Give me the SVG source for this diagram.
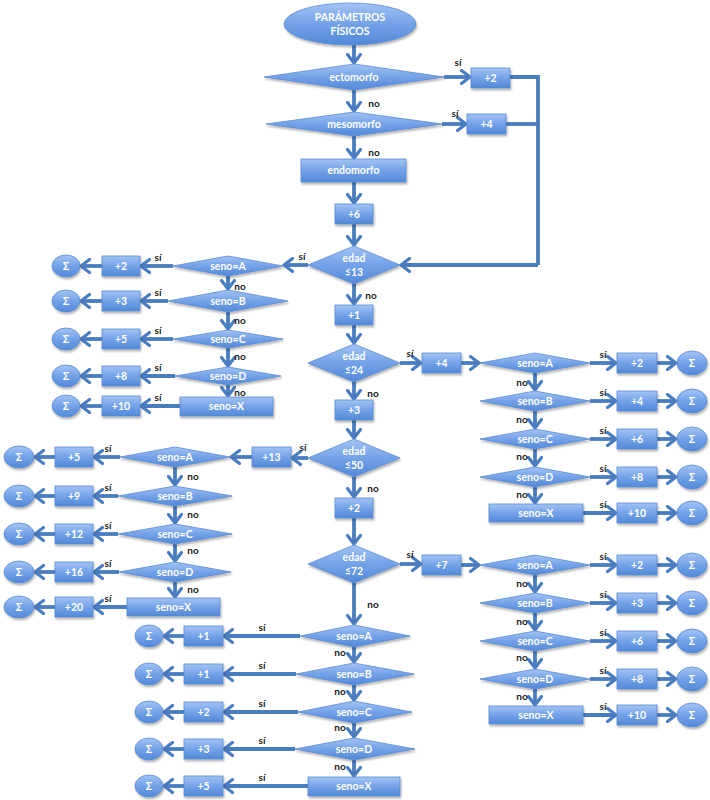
<svg xmlns="http://www.w3.org/2000/svg" width="710" height="800" viewBox="0 0 710 800">
<defs>
<linearGradient id="g" x1="0" y1="0" x2="0" y2="1">
<stop offset="0" stop-color="#a2c4f4"/>
<stop offset="0.5" stop-color="#74a2e8"/>
<stop offset="1" stop-color="#5289d8"/>
</linearGradient>
<filter id="sh" x="-10%" y="-20%" width="130%" height="160%">
<feDropShadow dx="1" dy="2" stdDeviation="1.2" flood-color="#000" flood-opacity="0.3"/>
</filter>
<marker id="ar" viewBox="0 0 12 16" refX="10" refY="8" markerWidth="12" markerHeight="16" markerUnits="userSpaceOnUse" orient="auto">
<path d="M1.5,1.5 L10,8 L1.5,14.5" fill="none" stroke="#4a7dc0" stroke-width="3.2" stroke-linecap="round" stroke-linejoin="round"/>
</marker>
</defs>
<style>
.n{fill:url(#g);stroke:#5a8ad0;stroke-width:0.8;filter:url(#sh)}
.t{font-family:Lato,"Liberation Sans",sans-serif;font-weight:bold;font-size:10.5px;fill:#ffffff;text-anchor:middle}
.l{font-family:Lato,"Liberation Sans",sans-serif;font-weight:bold;font-size:10px;fill:#1a1a1a;text-anchor:middle}
.c{stroke:#4a7dc0;stroke-width:3.8;fill:none}
.c line,.c path{marker-end:url(#ar)}
.c .p{marker-end:none}
</style>
<rect width="710" height="800" fill="#ffffff"/>

<g id="connectors" class="c">
<line x1="354" y1="45" x2="354" y2="63"/>
<line x1="444" y1="77" x2="470" y2="77"/>
<path class="p" d="M510,77 H538 V265"/>
<path class="p" d="M506,124 H538"/>
<line x1="538" y1="265" x2="401" y2="265"/>
<line x1="354" y1="90" x2="354" y2="111"/>
<line x1="442" y1="124" x2="466" y2="124"/>
<line x1="354" y1="136" x2="354" y2="158"/>
<line x1="354" y1="182" x2="354" y2="203"/>
<line x1="354" y1="224" x2="354" y2="245"/>
<line x1="354" y1="284" x2="354" y2="304"/>
<line x1="354" y1="325" x2="354" y2="343"/>
<line x1="354" y1="382" x2="354" y2="399"/>
<line x1="354" y1="420" x2="354" y2="438"/>
<line x1="354" y1="477" x2="354" y2="497"/>
<line x1="354" y1="518" x2="354" y2="544"/>
<line x1="354" y1="583" x2="354" y2="624"/>
<line x1="308" y1="265" x2="284" y2="265"/>
<line x1="173" y1="266" x2="141" y2="266"/>
<line x1="102" y1="266" x2="81" y2="266"/>
<line x1="168" y1="301" x2="141" y2="301"/>
<line x1="102" y1="301" x2="81" y2="301"/>
<line x1="173" y1="339" x2="141" y2="339"/>
<line x1="102" y1="339" x2="81" y2="339"/>
<line x1="175" y1="376" x2="141" y2="376"/>
<line x1="102" y1="376" x2="81" y2="376"/>
<line x1="180" y1="406" x2="141" y2="406"/>
<line x1="102" y1="406" x2="81" y2="406"/>
<line x1="228" y1="276" x2="228" y2="289"/>
<line x1="228" y1="312" x2="228" y2="329"/>
<line x1="228" y1="348" x2="228" y2="366"/>
<line x1="228" y1="385" x2="228" y2="396"/>
<line x1="400" y1="363" x2="421" y2="363"/>
<line x1="461" y1="363" x2="479" y2="363"/>
<line x1="590" y1="363" x2="616" y2="363"/>
<line x1="657" y1="363" x2="676" y2="363"/>
<line x1="590" y1="401" x2="616" y2="401"/>
<line x1="657" y1="401" x2="676" y2="401"/>
<line x1="590" y1="439" x2="616" y2="439"/>
<line x1="657" y1="439" x2="676" y2="439"/>
<line x1="590" y1="477" x2="616" y2="477"/>
<line x1="657" y1="477" x2="676" y2="477"/>
<line x1="583" y1="513" x2="616" y2="513"/>
<line x1="657" y1="513" x2="676" y2="513"/>
<line x1="535" y1="373" x2="535" y2="390"/>
<line x1="535" y1="411" x2="535" y2="428"/>
<line x1="535" y1="449" x2="535" y2="466"/>
<line x1="535" y1="487" x2="535" y2="503"/>
<line x1="308" y1="458" x2="292" y2="458"/>
<line x1="252" y1="457" x2="231" y2="457"/>
<line x1="120" y1="457" x2="94" y2="457"/>
<line x1="55" y1="457" x2="35" y2="457"/>
<line x1="118" y1="496" x2="94" y2="496"/>
<line x1="55" y1="496" x2="35" y2="496"/>
<line x1="118" y1="534" x2="94" y2="534"/>
<line x1="55" y1="534" x2="35" y2="534"/>
<line x1="119" y1="572" x2="94" y2="572"/>
<line x1="55" y1="572" x2="35" y2="572"/>
<line x1="127" y1="607" x2="94" y2="607"/>
<line x1="55" y1="607" x2="35" y2="607"/>
<line x1="175" y1="467" x2="175" y2="485"/>
<line x1="175" y1="506" x2="175" y2="523"/>
<line x1="175" y1="544" x2="175" y2="561"/>
<line x1="175" y1="582" x2="175" y2="597"/>
<line x1="400" y1="564" x2="421" y2="564"/>
<line x1="461" y1="565" x2="479" y2="565"/>
<line x1="590" y1="565" x2="616" y2="565"/>
<line x1="657" y1="565" x2="676" y2="565"/>
<line x1="590" y1="603" x2="616" y2="603"/>
<line x1="657" y1="603" x2="676" y2="603"/>
<line x1="590" y1="641" x2="616" y2="641"/>
<line x1="657" y1="641" x2="676" y2="641"/>
<line x1="590" y1="679" x2="616" y2="679"/>
<line x1="657" y1="679" x2="676" y2="679"/>
<line x1="583" y1="715" x2="616" y2="715"/>
<line x1="657" y1="715" x2="676" y2="715"/>
<line x1="535" y1="575" x2="535" y2="592"/>
<line x1="535" y1="613" x2="535" y2="630"/>
<line x1="535" y1="651" x2="535" y2="668"/>
<line x1="535" y1="689" x2="535" y2="705"/>
<line x1="300" y1="636" x2="224" y2="636"/>
<line x1="184" y1="636" x2="164" y2="636"/>
<line x1="296" y1="674" x2="224" y2="674"/>
<line x1="184" y1="674" x2="164" y2="674"/>
<line x1="298" y1="712" x2="224" y2="712"/>
<line x1="184" y1="712" x2="164" y2="712"/>
<line x1="295" y1="749" x2="224" y2="749"/>
<line x1="184" y1="749" x2="164" y2="749"/>
<line x1="308" y1="786" x2="224" y2="786"/>
<line x1="184" y1="786" x2="164" y2="786"/>
<line x1="354" y1="647" x2="354" y2="662"/>
<line x1="354" y1="685" x2="354" y2="700"/>
<line x1="354" y1="723" x2="354" y2="737"/>
<line x1="354" y1="760" x2="354" y2="776"/>
</g>

<g id="labels">
<text class="l" x="458" y="66">sí</text>
<text class="l" x="374" y="107">no</text>
<text class="l" x="455" y="117">sí</text>
<text class="l" x="374" y="156">no</text>
<text class="l" x="302" y="260">sí</text>
<text class="l" x="371" y="299">no</text>
<text class="l" x="410" y="357">sí</text>
<text class="l" x="373" y="397">no</text>
<text class="l" x="303" y="451">sí</text>
<text class="l" x="373" y="492">no</text>
<text class="l" x="410" y="558">sí</text>
<text class="l" x="373" y="608">no</text>
<text class="l" x="158" y="261">sí</text>
<text class="l" x="158" y="296">sí</text>
<text class="l" x="158" y="334">sí</text>
<text class="l" x="158" y="371">sí</text>
<text class="l" x="158" y="401">sí</text>
<text class="l" x="240" y="290">no</text>
<text class="l" x="240" y="324">no</text>
<text class="l" x="240" y="360">no</text>
<text class="l" x="240" y="396">no</text>
<text class="l" x="603" y="358">sí</text>
<text class="l" x="603" y="396">sí</text>
<text class="l" x="603" y="434">sí</text>
<text class="l" x="603" y="472">sí</text>
<text class="l" x="603" y="508">sí</text>
<text class="l" x="522" y="386">no</text>
<text class="l" x="522" y="423">no</text>
<text class="l" x="522" y="460">no</text>
<text class="l" x="522" y="498">no</text>
<text class="l" x="108" y="452">sí</text>
<text class="l" x="108" y="491">sí</text>
<text class="l" x="108" y="529">sí</text>
<text class="l" x="108" y="567">sí</text>
<text class="l" x="108" y="602">sí</text>
<text class="l" x="193" y="480">no</text>
<text class="l" x="193" y="518">no</text>
<text class="l" x="193" y="554">no</text>
<text class="l" x="193" y="593">no</text>
<text class="l" x="603" y="560">sí</text>
<text class="l" x="603" y="598">sí</text>
<text class="l" x="603" y="636">sí</text>
<text class="l" x="603" y="674">sí</text>
<text class="l" x="603" y="710">sí</text>
<text class="l" x="522" y="587">no</text>
<text class="l" x="522" y="625">no</text>
<text class="l" x="522" y="661">no</text>
<text class="l" x="522" y="700">no</text>
<text class="l" x="262" y="631">sí</text>
<text class="l" x="262" y="669">sí</text>
<text class="l" x="262" y="707">sí</text>
<text class="l" x="262" y="744">sí</text>
<text class="l" x="262" y="781">sí</text>
<text class="l" x="340" y="656">no</text>
<text class="l" x="340" y="695">no</text>
<text class="l" x="340" y="731">no</text>
<text class="l" x="340" y="770">no</text>
</g>

<g id="start"><ellipse class="n" cx="350" cy="24" rx="66" ry="21"/><text class="t" x="350" y="21">PARÁMETROS</text><text class="t" x="350" y="35">FÍSICOS</text></g>
<g id="ecto"><polygon class="n" points="264,77 354,64 444,77 354,90"/><text class="t" x="354" y="81">ectomorfo</text></g>
<g id="ecto_p2"><rect class="n" x="471" y="68" width="39" height="20"/><text class="t" x="490.5" y="81.5">+2</text></g>
<g id="meso"><polygon class="n" points="266,124 354,112 442,124 354,136"/><text class="t" x="354" y="128">mesomorfo</text></g>
<g id="meso_p4"><rect class="n" x="467" y="114" width="39" height="20"/><text class="t" x="486.5" y="127.5">+4</text></g>
<g id="endo"><rect class="n" x="301" y="159" width="105" height="23"/><text class="t" x="353.5" y="174">endomorfo</text></g>
<g id="p6"><rect class="n" x="335" y="204" width="38" height="20"/><text class="t" x="354" y="217.5">+6</text></g>
<g id="edad13"><polygon class="n" points="308,265 354,246 400,265 354,284"/><text class="t" x="354" y="262">edad</text><text class="t" x="354" y="276">≤13</text></g>
<g id="p1"><rect class="n" x="335" y="305" width="38" height="20"/><text class="t" x="354" y="318.5">+1</text></g>
<g id="edad24"><polygon class="n" points="308,363 354,344 400,363 354,382"/><text class="t" x="354" y="360">edad</text><text class="t" x="354" y="374">≤24</text></g>
<g id="p3"><rect class="n" x="335" y="400" width="38" height="20"/><text class="t" x="354" y="413.5">+3</text></g>
<g id="edad50"><polygon class="n" points="308,458 354,439 400,458 354,477"/><text class="t" x="354" y="455">edad</text><text class="t" x="354" y="469">≤50</text></g>
<g id="p2m"><rect class="n" x="335" y="498" width="38" height="20"/><text class="t" x="354" y="511.5">+2</text></g>
<g id="edad72"><polygon class="n" points="308,564 354,545 400,564 354,583"/><text class="t" x="354" y="561">edad</text><text class="t" x="354" y="575">≤72</text></g>

<g id="l1a"><polygon class="n" points="173,266 228,256 283,266 228,276"/><text class="t" x="228" y="269.5">seno=A</text></g>
<g id="l1b"><polygon class="n" points="168,301 228,290 288,301 228,312"/><text class="t" x="228" y="304.5">seno=B</text></g>
<g id="l1c"><polygon class="n" points="173,339 228,330 283,339 228,348"/><text class="t" x="228" y="342.5">seno=C</text></g>
<g id="l1d"><polygon class="n" points="175,376 228,367 281,376 228,385"/><text class="t" x="228" y="379.5">seno=D</text></g>
<g id="l1x"><rect class="n" x="180" y="397" width="93" height="19"/><text class="t" x="226.5" y="410">seno=X</text></g>
<g id="l1a_v"><rect class="n" x="102" y="256" width="38" height="20"/><text class="t" x="121" y="269.5">+2</text></g>
<g id="l1b_v"><rect class="n" x="102" y="291" width="38" height="20"/><text class="t" x="121" y="304.5">+3</text></g>
<g id="l1c_v"><rect class="n" x="102" y="329" width="38" height="20"/><text class="t" x="121" y="342.5">+5</text></g>
<g id="l1d_v"><rect class="n" x="102" y="366" width="38" height="20"/><text class="t" x="121" y="379.5">+8</text></g>
<g id="l1x_v"><rect class="n" x="102" y="396" width="38" height="20"/><text class="t" x="121" y="409.5">+10</text></g>
<g id="l1a_s"><ellipse class="n" cx="66" cy="266" rx="14" ry="11"/><text class="t" x="66" y="269.5">Σ</text></g>
<g id="l1b_s"><ellipse class="n" cx="66" cy="301" rx="14" ry="11"/><text class="t" x="66" y="304.5">Σ</text></g>
<g id="l1c_s"><ellipse class="n" cx="66" cy="339" rx="14" ry="11"/><text class="t" x="66" y="342.5">Σ</text></g>
<g id="l1d_s"><ellipse class="n" cx="66" cy="376" rx="14" ry="11"/><text class="t" x="66" y="379.5">Σ</text></g>
<g id="l1x_s"><ellipse class="n" cx="66" cy="406" rx="14" ry="11"/><text class="t" x="66" y="409.5">Σ</text></g>

<g id="r1_p4"><rect class="n" x="422" y="353" width="39" height="20"/><text class="t" x="441.5" y="366.5">+4</text></g>
<g id="r1a"><polygon class="n" points="480,363 535,353 590,363 535,373"/><text class="t" x="535" y="366.5">seno=A</text></g>
<g id="r1b"><polygon class="n" points="480,401 535,391 590,401 535,411"/><text class="t" x="535" y="404.5">seno=B</text></g>
<g id="r1c"><polygon class="n" points="480,439 535,429 590,439 535,449"/><text class="t" x="535" y="442.5">seno=C</text></g>
<g id="r1d"><polygon class="n" points="480,477 535,467 590,477 535,487"/><text class="t" x="535" y="480.5">seno=D</text></g>
<g id="r1x"><rect class="n" x="489" y="504" width="94" height="18"/><text class="t" x="536" y="516.5">seno=X</text></g>
<g id="r1a_v"><rect class="n" x="617" y="353" width="40" height="20"/><text class="t" x="637" y="366.5">+2</text></g>
<g id="r1b_v"><rect class="n" x="617" y="391" width="40" height="20"/><text class="t" x="637" y="404.5">+4</text></g>
<g id="r1c_v"><rect class="n" x="617" y="429" width="40" height="20"/><text class="t" x="637" y="442.5">+6</text></g>
<g id="r1d_v"><rect class="n" x="617" y="467" width="40" height="20"/><text class="t" x="637" y="480.5">+8</text></g>
<g id="r1x_v"><rect class="n" x="617" y="503" width="40" height="20"/><text class="t" x="637" y="516.5">+10</text></g>
<g id="r1a_s"><ellipse class="n" cx="692" cy="363" rx="15" ry="12"/><text class="t" x="692" y="366.5">Σ</text></g>
<g id="r1b_s"><ellipse class="n" cx="692" cy="401" rx="15" ry="12"/><text class="t" x="692" y="404.5">Σ</text></g>
<g id="r1c_s"><ellipse class="n" cx="692" cy="439" rx="15" ry="12"/><text class="t" x="692" y="442.5">Σ</text></g>
<g id="r1d_s"><ellipse class="n" cx="692" cy="477" rx="15" ry="12"/><text class="t" x="692" y="480.5">Σ</text></g>
<g id="r1x_s"><ellipse class="n" cx="692" cy="513" rx="15" ry="12"/><text class="t" x="692" y="516.5">Σ</text></g>

<g id="l2_p13"><rect class="n" x="252" y="447" width="39" height="20"/><text class="t" x="271.5" y="460.5">+13</text></g>
<g id="l2a"><polygon class="n" points="120,457 175,447 230,457 175,467"/><text class="t" x="175" y="460.5">seno=A</text></g>
<g id="l2b"><polygon class="n" points="118,496 175,486 232,496 175,506"/><text class="t" x="175" y="499.5">seno=B</text></g>
<g id="l2c"><polygon class="n" points="118,534 175,524 232,534 175,544"/><text class="t" x="175" y="537.5">seno=C</text></g>
<g id="l2d"><polygon class="n" points="119,572 175,562 231,572 175,582"/><text class="t" x="175" y="575.5">seno=D</text></g>
<g id="l2x"><rect class="n" x="127" y="598" width="93" height="18"/><text class="t" x="173.5" y="610.5">seno=X</text></g>
<g id="l2a_v"><rect class="n" x="55" y="447" width="38" height="20"/><text class="t" x="74" y="460.5">+5</text></g>
<g id="l2b_v"><rect class="n" x="55" y="486" width="38" height="20"/><text class="t" x="74" y="499.5">+9</text></g>
<g id="l2c_v"><rect class="n" x="55" y="524" width="38" height="20"/><text class="t" x="74" y="537.5">+12</text></g>
<g id="l2d_v"><rect class="n" x="55" y="562" width="38" height="20"/><text class="t" x="74" y="575.5">+16</text></g>
<g id="l2x_v"><rect class="n" x="55" y="597" width="38" height="20"/><text class="t" x="74" y="610.5">+20</text></g>
<g id="l2a_s"><ellipse class="n" cx="19" cy="457" rx="15" ry="11"/><text class="t" x="19" y="460.5">Σ</text></g>
<g id="l2b_s"><ellipse class="n" cx="19" cy="496" rx="15" ry="11"/><text class="t" x="19" y="499.5">Σ</text></g>
<g id="l2c_s"><ellipse class="n" cx="19" cy="534" rx="15" ry="11"/><text class="t" x="19" y="537.5">Σ</text></g>
<g id="l2d_s"><ellipse class="n" cx="19" cy="572" rx="15" ry="11"/><text class="t" x="19" y="575.5">Σ</text></g>
<g id="l2x_s"><ellipse class="n" cx="19" cy="607" rx="15" ry="11"/><text class="t" x="19" y="610.5">Σ</text></g>

<g id="r2_p7"><rect class="n" x="422" y="555" width="39" height="20"/><text class="t" x="441.5" y="568.5">+7</text></g>
<g id="r2a"><polygon class="n" points="480,565 535,555 590,565 535,575"/><text class="t" x="535" y="568.5">seno=A</text></g>
<g id="r2b"><polygon class="n" points="480,603 535,593 590,603 535,613"/><text class="t" x="535" y="606.5">seno=B</text></g>
<g id="r2c"><polygon class="n" points="480,641 535,631 590,641 535,651"/><text class="t" x="535" y="644.5">seno=C</text></g>
<g id="r2d"><polygon class="n" points="480,679 535,669 590,679 535,689"/><text class="t" x="535" y="682.5">seno=D</text></g>
<g id="r2x"><rect class="n" x="489" y="706" width="94" height="18"/><text class="t" x="536" y="718.5">seno=X</text></g>
<g id="r2a_v"><rect class="n" x="617" y="555" width="40" height="20"/><text class="t" x="637" y="568.5">+2</text></g>
<g id="r2b_v"><rect class="n" x="617" y="593" width="40" height="20"/><text class="t" x="637" y="606.5">+3</text></g>
<g id="r2c_v"><rect class="n" x="617" y="631" width="40" height="20"/><text class="t" x="637" y="644.5">+6</text></g>
<g id="r2d_v"><rect class="n" x="617" y="669" width="40" height="20"/><text class="t" x="637" y="682.5">+8</text></g>
<g id="r2x_v"><rect class="n" x="617" y="705" width="40" height="20"/><text class="t" x="637" y="718.5">+10</text></g>
<g id="r2a_s"><ellipse class="n" cx="692" cy="565" rx="15" ry="12"/><text class="t" x="692" y="568.5">Σ</text></g>
<g id="r2b_s"><ellipse class="n" cx="692" cy="603" rx="15" ry="12"/><text class="t" x="692" y="606.5">Σ</text></g>
<g id="r2c_s"><ellipse class="n" cx="692" cy="641" rx="15" ry="12"/><text class="t" x="692" y="644.5">Σ</text></g>
<g id="r2d_s"><ellipse class="n" cx="692" cy="679" rx="15" ry="12"/><text class="t" x="692" y="682.5">Σ</text></g>
<g id="r2x_s"><ellipse class="n" cx="692" cy="715" rx="15" ry="12"/><text class="t" x="692" y="718.5">Σ</text></g>

<g id="b_a"><polygon class="n" points="300,636 354,625 410,636 354,647"/><text class="t" x="354" y="639.5">seno=A</text></g>
<g id="b_b"><polygon class="n" points="296,674 354,663 414,674 354,685"/><text class="t" x="354" y="677.5">seno=B</text></g>
<g id="b_c"><polygon class="n" points="298,712 354,701 412,712 354,723"/><text class="t" x="354" y="715.5">seno=C</text></g>
<g id="b_d"><polygon class="n" points="295,749 354,738 415,749 354,760"/><text class="t" x="354" y="752.5">seno=D</text></g>
<g id="b_x"><rect class="n" x="308" y="777" width="92" height="19"/><text class="t" x="354" y="790">seno=X</text></g>
<g id="b_a_v"><rect class="n" x="184" y="626" width="39" height="20"/><text class="t" x="203.5" y="639.5">+1</text></g>
<g id="b_b_v"><rect class="n" x="184" y="664" width="39" height="20"/><text class="t" x="203.5" y="677.5">+1</text></g>
<g id="b_c_v"><rect class="n" x="184" y="702" width="39" height="20"/><text class="t" x="203.5" y="715.5">+2</text></g>
<g id="b_d_v"><rect class="n" x="184" y="739" width="39" height="20"/><text class="t" x="203.5" y="752.5">+3</text></g>
<g id="b_x_v"><rect class="n" x="184" y="776" width="39" height="20"/><text class="t" x="203.5" y="789.5">+5</text></g>
<g id="b_a_s"><ellipse class="n" cx="149" cy="636" rx="14" ry="11"/><text class="t" x="149" y="639.5">Σ</text></g>
<g id="b_b_s"><ellipse class="n" cx="149" cy="674" rx="14" ry="11"/><text class="t" x="149" y="677.5">Σ</text></g>
<g id="b_c_s"><ellipse class="n" cx="149" cy="712" rx="14" ry="11"/><text class="t" x="149" y="715.5">Σ</text></g>
<g id="b_d_s"><ellipse class="n" cx="149" cy="749" rx="14" ry="11"/><text class="t" x="149" y="752.5">Σ</text></g>
<g id="b_x_s"><ellipse class="n" cx="149" cy="786" rx="14" ry="11"/><text class="t" x="149" y="789.5">Σ</text></g>
</svg>
